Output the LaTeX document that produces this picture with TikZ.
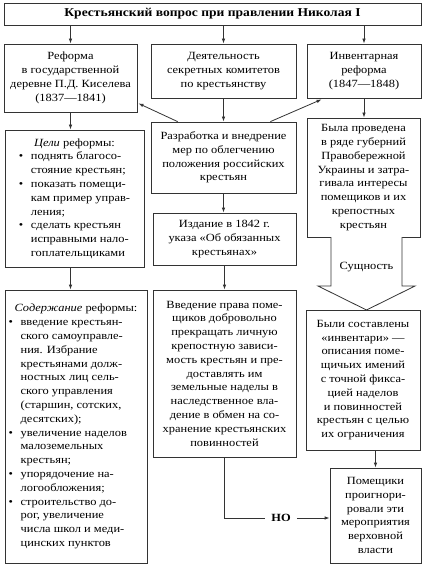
\documentclass[tikz,border=0pt]{standalone}
\usepackage{fontspec}
\setmainfont{Liberation Serif}[FakeStretch=1.13]
\usetikzlibrary{arrows.meta,calc}
\newcommand\bul{\makebox[12pt][l]{•}}
\tikzset{
  box/.style={draw=black!80, line width=0.8pt, fill=white, inner sep=0pt, align=center,
              font=\fontsize{11}{13.8}\selectfont},
  arr/.style={draw=black!80, line width=0.8pt, -{Latex[length=5pt,width=3.5pt]}},
  ln/.style={draw=black!80, line width=0.8pt},
  lbl/.style={font=\fontsize{11}{13.8}\selectfont, inner sep=0pt},
}
\begin{document}
\begin{tikzpicture}[x=1pt,y=-1pt]
\useasboundingbox (0,0) rectangle (424,567);
% title
\node[box, minimum width=417pt, minimum height=22pt, font=\fontsize{12}{14}\selectfont\bfseries] (T) at (212.5,14) {Крестьянский вопрос при правлении Николая I};
% row 1
\node[box, minimum width=133pt, minimum height=68pt] (A) at (70.5,78) {Реформа\\в государственной\\деревне П.Д. Киселева\\(1837—1841)};
\node[box, minimum width=145pt, minimum height=54pt] (B) at (223.5,71) {Деятельность\\секретных комитетов\\по крестьянству};
\node[box, minimum width=114pt, minimum height=54pt] (C) at (364,71) {Инвентарная\\реформа\\(1847—1848)};
% left column
\node[box, minimum width=139pt, minimum height=137pt] (A2) at (74.5,198.5) {\begin{tabular}{@{}l@{}l@{}}
\multicolumn{2}{c}{\textit{Цели} реформы:}\\
\bul&поднять благосо-\\
&стояние крестьян;\\
\bul&показать помещи-\\
&кам пример управ-\\
&ления;\\
\bul&сделать крестьян\\
&исправными нало-\\
&гоплательщиками
\end{tabular}};
\node[box, minimum width=142pt, minimum height=273pt] (A3) at (76,426.5) {\begin{tabular}{@{}l@{}l@{}}
\multicolumn{2}{c}{\textit{Содержание} реформы:}\\
\bul&введение крестьян-\\
&ского самоуправле-\\
&ния. Избрание\\
&крестьянами долж-\\
&ностных лиц сель-\\
&ского управления\\
&(старшин, сотских,\\
&десятских);\\
\bul&увеличение наделов\\
&малоземельных\\
&крестьян;\\
\bul&упорядочение на-\\
&логообложения;\\
\bul&строительство до-\\
&рог,  увеличение\\
&числа школ и меди-\\
&цинских пунктов
\end{tabular}};
% middle column
\node[box, minimum width=145pt, minimum height=71pt] (D) at (223.5,157.5) {Разработка и внедрение\\мер по облегчению\\положения российских\\крестьян};
\node[box, minimum width=143pt, minimum height=52pt] (E) at (224.5,239) {Издание в 1842 г.\\указа «Об обязанных\\крестьянах»};
\node[box, minimum width=143pt, minimum height=167pt] (F) at (224.5,373.5) {Введение права поме-\\щиков добровольно\\прекращать личную\\крепостную зависи-\\мость крестьян и пре-\\доставлять им\\земельные наделы в\\наследственное вла-\\дение в обмен на со-\\хранение крестьянских\\повинностей};
% right column
\node[box, minimum width=113pt, minimum height=119pt] (C2) at (363.5,177.5) {Была проведена\\в ряде губерний\\Правобережной\\Украины и затра-\\гивала интересы\\помещиков и их\\крепостных\\крестьян};
\node[box, minimum width=114pt, minimum height=140pt] (G) at (363,380) {Были составлены\\«инвентари» —\\описания поме-\\щичьих имений\\с точной фикса-\\цией наделов\\и повинностей\\крестьян с целью\\их ограничения};
\node[box, minimum width=91pt, minimum height=95pt] (H) at (375.5,515.5) {Помещики\\проигнори-\\ровали эти\\мероприятия\\верховной\\власти};
% connectors
\draw[arr] (A.north |- T.south) -- (A.north);
\draw[arr] (B.north |- T.south) -- (B.north);
\draw[arr] (C.north |- T.south) -- (C.north);
\draw[arr] (A.south) -- (A.south |- A2.north);
\draw[arr] (A.south |- A2.south) -- (A.south |- A3.north);
\draw[arr] (B.south) -- (D.north);
\draw[arr] ($(D.north west)+(27,0)$) -- ($(A.south east)+(1,-9)$);
\draw[arr] ($(D.north east)+(-26,0)$) -- ($(C.south west)+(15,1)$);
\draw[arr] (D.south) -- (D.south |- E.north);
\draw[arr] (E.south) -- (E.south |- F.north);
\draw[arr] (C.south) -- (C.south |- C2.north);
% hollow arrow
\draw[ln, fill=white, line join=miter] (331,237) -- (331,286) -- (318,286) -- (366.5,310) -- (415,286) -- (402,286) -- (402,237);
\node[lbl] (S) at (366.5,267) {Сущность};
\draw[arr] (H.north |- G.south) -- (H.north);
% NO
\node[lbl, font=\fontsize{11}{13.8}\selectfont\bfseries, inner xsep=6pt] (NO) at (281,518) {НО};
\draw[ln] (F.south) -- (F.south |- NO) -- (NO.west);
\draw[arr] (NO.east) -- (NO.east -| H.west);
\end{tikzpicture}
\end{document}
